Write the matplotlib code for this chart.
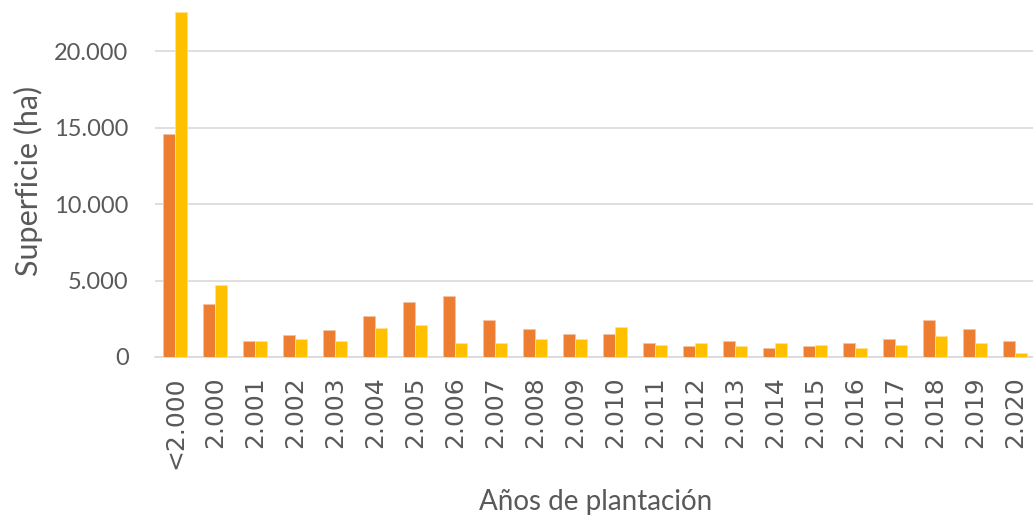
import matplotlib
matplotlib.use("Agg")
import matplotlib.pyplot as plt
import numpy as np

categories = ['<2.000', '2.000', '2.001', '2.002', '2.003', '2.004', '2.005', '2.006',
              '2.007', '2.008', '2.009', '2.010', '2.011', '2.012', '2.013', '2.014',
              '2.015', '2.016', '2.017', '2.018', '2.019', '2.020']
serie_naranja = [14600, 3450, 1070, 1420, 1770, 2680, 3580, 4010,
                 2420, 1860, 1500, 1500, 940, 700, 1070, 590,
                 700, 940, 1160, 2420, 1860, 1070]
serie_amarilla = [22550, 4700, 1070, 1180, 1070, 1880, 2090, 940,
                  940, 1160, 1160, 1940, 810, 940, 700, 940,
                  810, 590, 810, 1400, 940, 240]
yticks = [0, 5000, 10000, 15000, 20000]
ytick_labels = ['0', '5.000', '10.000', '15.000', '20.000']

plt.rcParams['font.family'] = ['Lato', 'DejaVu Sans']
gris = '#595959'

fig = plt.figure(figsize=(10.33, 5.17), dpi=100)
ax = fig.add_axes([0.150, 0.3095, 0.852, 0.6905])

index = np.arange(len(categories))
bar_width = 0.3
ax.bar(index - bar_width / 2, serie_naranja, bar_width, color='#ED7D31',
       edgecolor='#f6c4a4', linewidth=0.6, zorder=3)
ax.bar(index + bar_width / 2, serie_amarilla, bar_width, color='#FFC000',
       edgecolor='#ffe28a', linewidth=0.6, zorder=3)

ax.set_xlim(-0.5, len(categories) - 0.5)
ax.set_ylim(0, 23350)
ax.set_yticks(yticks)
ax.set_yticklabels(ytick_labels)
ax.set_xticks(index)
ax.set_xticklabels(categories)

ax.grid(True, axis='y', color='#d9d9d9', linewidth=1.2, zorder=0)
for s in ['top', 'right', 'left']:
    ax.spines[s].set_visible(False)
ax.spines['bottom'].set_color('#d9d9d9')
ax.spines['bottom'].set_linewidth(1.2)
ax.tick_params(axis='both', length=0, colors=gris)
ax.tick_params(axis='y', labelsize=17, pad=19)
ax.tick_params(axis='x', pad=14)
for lbl in ax.get_xticklabels():
    lbl.set_fontfamily('DejaVu Sans')
    lbl.set_fontsize(18)
    lbl.set_rotation(90)
    lbl.set_va('top')

fig.text(0.577, 0.029, 'Años de plantación', ha='center', va='center',
         fontsize=20, color=gris)
fig.text(0.028, 0.650, 'Superficie (ha)', ha='center', va='center',
         rotation=90, fontsize=22, color=gris)

plt.savefig('out.png', dpi=100)
